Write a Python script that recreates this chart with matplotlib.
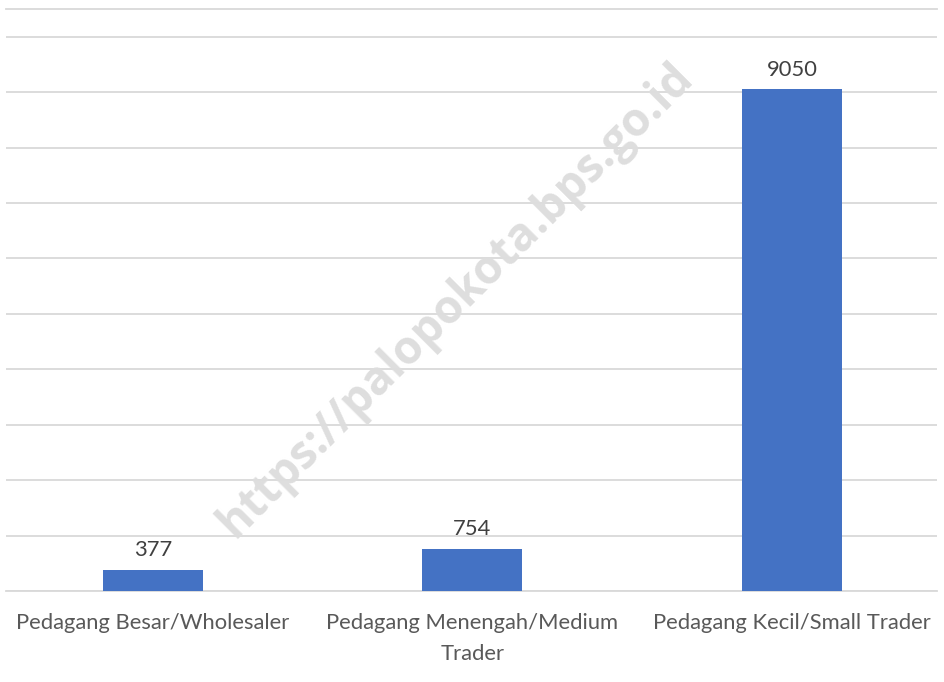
import matplotlib.pyplot as plt

categories = ["Pedagang Besar/Wholesaler", "Pedagang Menengah/Medium\nTrader",
              "Pedagang Kecil/Small Trader"]
values = [377, 754, 9050]

W, H = 945, 682
fig = plt.figure(figsize=(W / 100, H / 100), dpi=100)
ax = fig.add_axes([6 / W, (H - 591) / H, 931 / W, (591 - 9) / H])

grid_color = "#d9d9d9"
x = list(range(len(values)))
bars = ax.bar(x, values, width=0.313, color="#4472C4", zorder=3)

ax.set_ylim(0, 10500)
ax.set_xlim(-0.46, 2.454)
ax.set_yticks(range(0, 10001, 1000))
ax.yaxis.grid(True, color=grid_color, linewidth=1.3, zorder=0)
ax.tick_params(axis="y", left=False, labelleft=False)
ax.tick_params(axis="x", length=0, pad=16)
ax.set_xticks(x)
ax.set_xticklabels(categories, fontsize=15.8, color="#595959", family="Lato",
                   linespacing=1.65)
for side in ["left", "right"]:
    ax.spines[side].set_visible(False)
ax.spines["top"].set_color(grid_color)
ax.spines["top"].set_linewidth(1.3)
ax.spines["bottom"].set_color(grid_color)
ax.spines["bottom"].set_linewidth(1.3)

for b, v in zip(bars, values):
    ax.annotate(str(v), (b.get_x() + b.get_width() / 2, v), xytext=(0, 7),
                textcoords="offset points", ha="center", va="bottom",
                fontsize=15.8, color="#404040", family="Lato")

# watermark
fig.text(456 / W, 1 - 300 / H, "https://palopokota.bps.go.id", rotation=45,
         ha="center", va="center", fontsize=33, fontweight="bold",
         color="#dedede", family="Open Sans", zorder=10)

fig.savefig("out.png", dpi=100)
